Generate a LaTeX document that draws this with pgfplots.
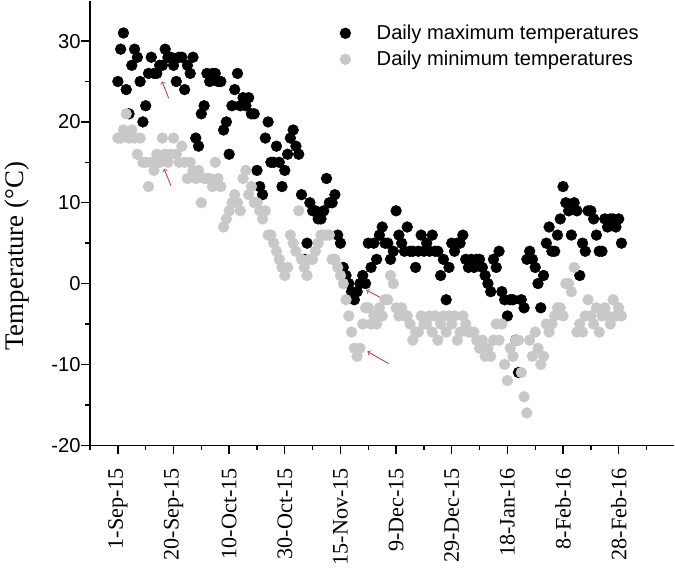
\documentclass[border=0pt]{standalone}
\usepackage{fontspec}
\setmainfont{Liberation Serif}
\newfontfamily\arial{Liberation Sans}
\usepackage{pgfplots}
\usepackage{pgfplotstable}
\pgfplotsset{compat=1.18}
\definecolor{lightgrey}{RGB}{200,200,200}
\definecolor{arrowred}{RGB}{205,45,55}

\pgfplotstableread[row sep=\\]{
d t\\
0 25\\ 1 29\\ 2 31\\ 3 24\\ 4 21\\ 5 27\\ 6 29\\ 7 28\\ 8 25\\ 9 20\\
10 22\\ 11 26\\ 12 28\\ 13 26\\ 14 26\\ 15 27\\ 16 27\\ 17 29\\ 18 28\\ 19 28\\
20 27\\ 21 25\\ 22 28\\ 23 28\\ 24 24\\ 25 27\\ 26 26\\ 27 28\\ 28 18\\ 29 17\\
30 21\\ 31 22\\ 32 26\\ 33 25\\ 34 26\\ 35 26\\ 36 25\\ 37 25\\ 38 19\\ 39 20\\
40 16\\ 41 22\\ 42 24\\ 43 26\\ 44 22\\ 45 23\\ 46 22\\ 47 23\\ 48 21\\ 49 21\\
50 14\\ 51 12\\ 52 11\\ 53 18\\ 54 20\\ 55 15\\ 56 15\\ 57 17\\ 58 15\\ 59 12\\
60 14\\ 61 16\\ 62 18\\ 63 19\\ 64 17\\ 65 16\\ 66 11\\ 67 3\\ 68 5\\ 69 10\\
70 9\\ 71 9\\ 72 8\\ 73 8\\ 74 9\\ 75 13\\ 76 10\\ 77 10\\ 78 11\\ 79 6\\
80 5\\ 81 2\\ 82 1\\ 83 0\\ 84 -1\\ 85 -2\\ 86 -1\\ 87 0\\ 88 1\\ 89 0\\
90 5\\ 91 2\\ 92 5\\ 93 3\\ 94 6\\ 95 7\\ 96 5\\ 97 5\\ 98 3\\ 99 4\\
100 9\\ 101 6\\ 102 5\\ 103 4\\ 104 7\\ 105 4\\ 106 4\\ 107 2\\ 108 4\\ 109 6\\
110 4\\ 111 5\\ 112 4\\ 113 6\\ 114 4\\ 115 4\\ 116 1\\ 117 3\\ 118 -2\\ 119 2\\
120 5\\ 121 4\\ 122 5\\ 123 5\\ 124 6\\ 125 3\\ 126 2\\ 127 3\\ 128 2\\ 129 3\\
130 3\\ 131 2\\ 132 1\\ 133 0\\ 134 -1\\ 135 3\\ 136 2\\ 137 4\\ 138 -1\\ 139 -2\\
140 -4\\ 141 -2\\ 142 -2\\ 143 -7\\ 144 -11\\ 145 -2\\ 146 -3\\ 147 3\\ 148 4\\ 149 3\\
150 2\\ 151 0\\ 152 -3\\ 153 1\\ 154 5\\ 155 7\\ 156 4\\ 157 4\\ 158 6\\ 159 8\\
160 12\\ 161 10\\ 162 9\\ 163 6\\ 164 10\\ 165 9\\ 166 1\\ 167 5\\ 168 4\\ 169 9\\
170 9\\ 171 8\\ 172 6\\ 173 4\\ 174 4\\ 175 8\\ 176 7\\ 177 8\\ 178 8\\ 179 7\\
180 8\\ 181 5\\
}\maxdata

\pgfplotstableread[row sep=\\]{
d t\\
0 18\\ 1 18\\ 2 19\\ 3 21\\ 4 18\\ 5 19\\ 6 18\\ 7 16\\ 8 18\\ 9 15\\
10 15\\ 11 12\\ 12 15\\ 13 14\\ 14 16\\ 15 15\\ 16 18\\ 17 16\\ 18 15\\ 19 16\\
20 18\\ 21 16\\ 22 15\\ 23 17\\ 24 15\\ 25 13\\ 26 15\\ 27 14\\ 28 13\\ 29 14\\
30 10\\ 31 13\\ 32 13\\ 33 13\\ 34 12\\ 35 15\\ 36 13\\ 37 12\\ 38 7\\ 39 8\\
40 9\\ 41 10\\ 42 11\\ 43 10\\ 44 9\\ 45 13\\ 46 14\\ 47 11\\ 48 12\\ 49 10\\
50 10\\ 51 9\\ 52 8\\ 53 9\\ 54 6\\ 55 6\\ 56 5\\ 57 4\\ 58 3\\ 59 2\\
60 1\\ 61 2\\ 62 6\\ 63 5\\ 64 4\\ 65 9\\ 66 3\\ 67 2\\ 68 1\\ 69 3\\
70 3\\ 71 4\\ 72 5\\ 73 6\\ 74 6\\ 75 6\\ 76 6\\ 77 3\\ 78 3\\ 79 2\\
80 1\\ 81 0\\ 82 -2\\ 83 -4\\ 84 -6\\ 85 -8\\ 86 -9\\ 87 -8\\ 88 -5\\ 89 -3\\
90 -3\\ 91 -5\\ 92 -4\\ 93 -5\\ 94 -3\\ 95 -4\\ 96 -2\\ 97 -2\\ 98 1\\ 99 0\\
100 -3\\ 101 -4\\ 102 -3\\ 103 -4\\ 104 -4\\ 105 -5\\ 106 -7\\ 107 -6\\ 108 -6\\ 109 -4\\
110 -5\\ 111 -5\\ 112 -4\\ 113 -6\\ 114 -4\\ 115 -7\\ 116 -5\\ 117 -4\\ 118 -6\\ 119 -4\\
120 -5\\ 121 -4\\ 122 -7\\ 123 -6\\ 124 -4\\ 125 -5\\ 126 -6\\ 127 -6\\ 128 -6\\ 129 -7\\
130 -8\\ 131 -7\\ 132 -9\\ 133 -8\\ 134 -9\\ 135 -7\\ 136 -5\\ 137 -7\\ 138 -5\\ 139 -10\\
140 -12\\ 141 -8\\ 142 -9\\ 143 -7\\ 144 -7\\ 145 -11\\ 146 -14\\ 147 -16\\ 148 -7\\ 149 -9\\
150 -6\\ 151 -8\\ 152 -10\\ 153 -9\\ 154 -5\\ 155 -6\\ 156 -5\\ 157 -4\\ 158 -3\\ 159 -3\\
160 -4\\ 161 0\\ 162 0\\ 163 -1\\ 164 2\\ 165 -6\\ 166 -5\\ 167 -6\\ 168 -4\\ 169 -2\\
170 -4\\ 171 -5\\ 172 -3\\ 173 -6\\ 174 -4\\ 175 -3\\ 176 -4\\ 177 -5\\ 178 -2\\ 179 -4\\
180 -3\\ 181 -4\\
}\mindata

\begin{document}
\begin{tikzpicture}
\begin{axis}[
  scale only axis,
  width=435pt, height=331pt,
  xmin=-10, xmax=200, ymin=-20, ymax=35,
  axis lines=left,
  axis line style={line width=1pt, -},
  every tick/.style={black, line width=1pt},
  tick align=outside,
  major tick length=6.5pt,
  minor tick length=3.5pt,
  xtick={0,20,...,180},
  xticklabels={1-Sep-15,20-Sep-15,10-Oct-15,30-Oct-15,15-Nov-15,9-Dec-15,29-Dec-15,18-Jan-16,8-Feb-16,28-Feb-16},
  minor xtick={-10,10,...,190},
  ytick={-20,-10,0,10,20,30},
  yticklabels={-20,-10,0,10,20,30},
  minor ytick={-15,-5,5,15,25},
  xticklabel style={rotate=90, anchor=east, font=\fontsize{16.5}{16.5}\selectfont},
  xticklabel shift=7pt,
  yticklabel style={font=\arial\fontsize{15}{15}\selectfont},
  yticklabel shift=-3pt,
  ylabel={Temperature (\textdegree C)},
  ylabel style={font=\fontsize{20}{24}\selectfont, at={(ticklabel cs:0.425)}, yshift=10pt},
  legend cell align=left,
  legend style={at={(0.41,0.958)}, anchor=north west, draw=none, fill=none,
    font=\arial\fontsize{15}{18}\selectfont, row sep=3pt},
  legend image code/.code={\path[draw=none] (0cm,0cm) -- (1.05cm,0cm); \draw[mark repeat=2,mark phase=2,#1] plot[only marks] coordinates {(0cm,0cm) (0.3cm,0cm) (0.6cm,0cm)};},
]
\addplot[only marks, mark=*, mark size=4pt, color=black, mark options={fill=black, draw=black}] table[x=d, y=t] {\maxdata};
\addlegendentry{Daily maximum temperatures}
\addplot[only marks, mark=*, mark size=4pt, color=lightgrey, mark options={fill=lightgrey, draw=lightgrey}] table[x=d, y=t] {\mindata};
\addlegendentry{Daily minimum temperatures}
\draw[->, arrowred, line width=0.6pt] (axis cs:18.3,22.9) -- (axis cs:15.9,25.0);
\draw[->, arrowred, line width=0.6pt] (axis cs:19.1,12.1) -- (axis cs:16.6,14.2);
\draw[->, arrowred, line width=0.6pt] (axis cs:97,-2.2) -- (axis cs:89.3,-0.8);
\draw[->, arrowred, line width=0.6pt] (axis cs:97.3,-9.9) -- (axis cs:89.7,-8.4);
\end{axis}
\end{tikzpicture}
\end{document}
